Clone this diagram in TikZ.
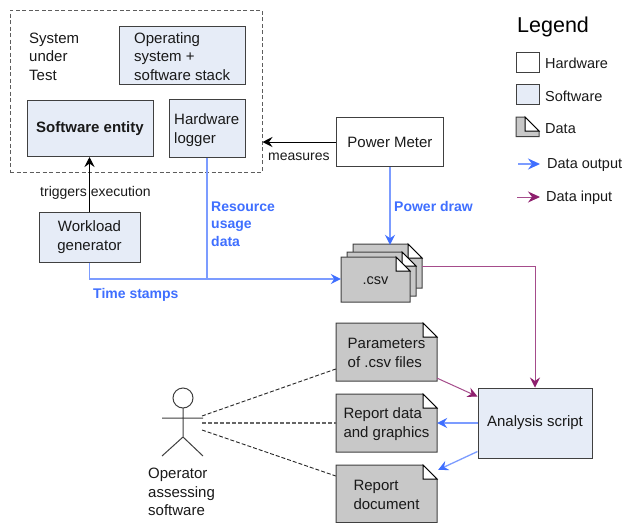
\documentclass[tikz,border=0pt]{standalone}
\usepackage{fontspec}
\setmainfont{Liberation Sans}
\usetikzlibrary{calc,arrows.meta}
\definecolor{swfill}{HTML}{E6ECF7}
\definecolor{datafill}{HTML}{C8C8C8}
\definecolor{bluel}{HTML}{3F6FFF}
\definecolor{bluelight}{HTML}{7C9CFF}
\definecolor{purp}{HTML}{8E1F6E}
\definecolor{edge}{HTML}{404040}
\tikzset{
  txt/.style={font=\fontsize{15}{18.5}\selectfont,align=left,text=black!90},
  small/.style={font=\fontsize{14}{18}\selectfont,align=left,text=black!90,inner sep=0pt},
  leg/.style={font=\fontsize{14.5}{18}\selectfont,align=left,text=black!90,inner sep=0pt,anchor=west},
  hwbox/.style={draw=edge,line width=1pt,fill=white,txt,inner sep=0pt,align=center},
  swbox/.style={hwbox,fill=swfill},
  lbl/.style={font=\fontsize{14}{17.5}\selectfont\bfseries,text=bluel,align=left,inner sep=0pt},
  blueconn/.style={draw=bluelight,line width=1.3pt},
  bluearr/.style={blueconn,-{Stealth[length=10pt,width=10pt,inset=3.5pt,color=bluel]}},
  purpconn/.style={draw=purp!80!white,line width=1pt},
  purparr/.style={purpconn,-{Stealth[length=10pt,width=10pt,inset=3.5pt,color=purp]}},
  blackarr/.style={draw=black,line width=1pt,-{Stealth[length=10pt,width=10pt,inset=3.5pt]}},
  dashconn/.style={draw=black!85,line width=0.9pt,dash pattern=on 4pt off 2pt},
  notepath/.style={draw=edge,line width=1pt,fill=datafill},
  notefold/.style={draw=black,line width=1pt,fill=white,line join=miter},
}
% name, x1, y1, x2, y2, text
\newcommand{\notebox}[6]{%
  \path[notepath] (#2,#3) -- ({#4-14},#3) -- (#4,{#3+14}) -- (#4,#5) -- (#2,#5) -- cycle;
  \path[notefold] ({#4-14},#3) -- (#4,{#3+14}) -- ({#4-14},{#3+14}) -- cycle;
  \node[txt,inner sep=0pt,minimum width={(#4-#2)*1pt},minimum height={(#5-#3)*1pt},align=left] (#1) at ({(#2+#4)/2},{(#3+#5)/2+1}) {#6};
}
\begin{document}
\begin{tikzpicture}[x=1pt,y=-1pt]
\useasboundingbox[fill=white] (0,0) rectangle (625,523);
% System under test
\node[draw=edge!85!white,line width=1pt,dash pattern=on 4pt off 2.5pt,minimum width=252pt,minimum height=162pt,inner sep=0pt] (sut) at (136,91) {};
\node[txt,inner sep=0pt,anchor=west] (suttext) at (29,56.5) {System\\under\\Test};
\node[swbox,minimum width=126pt,minimum height=58pt] (os) at (182,55) {};
\node[txt,inner sep=0pt,anchor=west] (ostext) at (134,56.5) {Operating\\system +\\software stack};
\node[swbox,minimum width=126pt,minimum height=56pt,font=\fontsize{15}{18.5}\selectfont\bfseries] (entity) at (90,128.5) {Software entity};
\node[swbox,minimum width=76pt,minimum height=58pt] (logger) at (207,128) {};
\node[txt,inner sep=0pt,anchor=west] (loggertext) at (174,130) {Hardware\\logger};
\node[swbox,minimum width=101pt,minimum height=50pt] (workload) at (89.5,237) {Workload\\generator};
\node[small,anchor=west] at (40,192.5) {triggers execution};
\node[hwbox,minimum width=107pt,minimum height=49pt] (meter) at (390,142) {Power Meter};
\node[small,anchor=west] at (268,156.5) {measures};
% csv stack
\notebox{csvc}{353}{244}{422}{288}{}
\notebox{csvb}{347}{252}{416}{296}{}
\notebox{csva}{341}{257}{410}{302}{\fontsize{14.5}{18}\selectfont .csv}
% analysis
\node[swbox,minimum width=114pt,minimum height=70pt] (analysis) at (535,423) {Analysis script};
\notebox{params}{336}{323}{437}{381}{Parameters\\of .csv files}
\notebox{report}{336}{394}{437}{452}{Report data\\and graphics}
\notebox{doc}{336}{465}{437}{522.5}{Report\\document}
% actor
\draw[edge,line width=1pt] (183,398) circle (10);
\coordinate (hand) at (203,418);
\draw[edge,line width=1pt] (183,408) -- (183,437) (162,418) -- (hand) (162,456) -- (183,437) -- (203,456);
\node[txt,inner sep=0pt,anchor=west] (actor) at (148,492) {Operator\\assessing\\software};
% connectors
\draw[blackarr] (workload.north) -- (workload.north |- entity.south);
\draw[blackarr] (meter.west |- 0,142) -- (sut.east |- 0,142);
\draw[bluearr] (meter.south) -- (meter.south |- csvc.north);
\coordinate (tsj) at (207,279);
\draw[bluearr] (workload.south) -- (workload.south |- tsj) -- (csva.west |- tsj);
\draw[blueconn] (logger.south) -- (tsj);
\draw[purparr] (csvc.east |- 0,266) -- (analysis.north |- 0,266) -- (analysis.north);
\draw[purparr] ($(params.south east)+(0,-4)$) -- ($(analysis.north west)+(0,9)$);
\draw[bluearr] (analysis.west) -- (report.east |- analysis.west);
\draw[bluearr] ($(analysis.south west)+(0,-7)$) -- ($(doc.north east)+(1,4)$);
\draw[dashconn] (202,416) -- (params.west |- 0,369);
\draw[dashconn,line width=1.3pt,draw=black!60] (202,423) -- (report.west |- 0,423);
\draw[dashconn] (202,430) -- (doc.west |- 0,476);
% labels
\node[lbl,anchor=west] at (211,224) {Resource\\usage\\data};
\node[lbl,anchor=west] at (394,206.5) {Power draw};
\node[lbl,anchor=west] at (93,294.5) {Time stamps};
% legend
\node[inner sep=0pt,anchor=west,font=\fontsize{21.5}{24}\selectfont] at (517,26.5) {Legend};
\node[hwbox,minimum width=23pt,minimum height=20pt] (lhw) at (527.5,62) {};
\node[leg] at (545,63.5) {Hardware};
\node[swbox,minimum width=23pt,minimum height=20pt] (lsw) at (527.5,94.5) {};
\node[leg] at (545,96) {Software};
\notebox{ldata}{516}{117}{539}{136.5}{}
\node[leg] at (545,128.5) {Data};
\coordinate (lo1) at (518,164); \coordinate (lo2) at (540,164);
\draw[bluearr,-{Stealth[length=12pt,width=11pt,inset=4pt,color=bluel]}] (lo1) -- (lo2);
\node[leg] at (547,165.5) {Data output};
\coordinate (li1) at (517,197); \coordinate (li2) at (540,197);
\draw[purparr,-{Stealth[length=12pt,width=11pt,inset=4pt,color=purp]}] (li1) -- (li2);
\node[leg] at (546,198) {Data input};
\end{tikzpicture}
\end{document}
